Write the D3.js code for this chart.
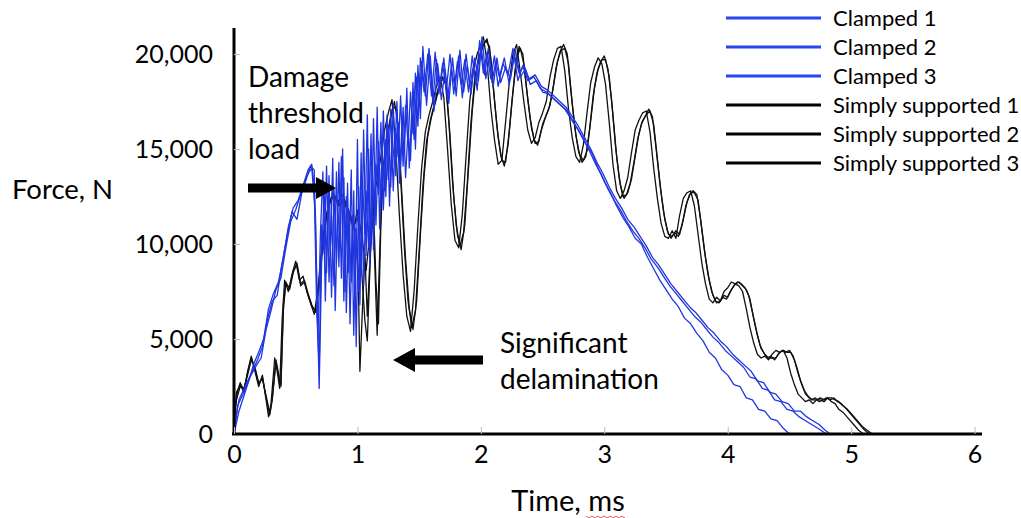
<!DOCTYPE html>
<html><head><meta charset="utf-8">
<script src="https://cdn.jsdelivr.net/npm/d3@7"></script>
<style>
html,body{margin:0;padding:0;background:#fff;}
svg{display:block;font-family:Lato,"Open Sans",sans-serif;}
</style></head>
<body>
<svg id="chart" width="1021" height="518"></svg>
<script>
// ---- data (time in ms, force in N) ----
const xTicks = [0, 1, 2, 3, 4, 5, 6];
const yTicks = [0, 5000, 10000, 15000, 20000];
const seriesNames = ["Clamped 1", "Clamped 2", "Clamped 3", "Simply supported 1", "Simply supported 2", "Simply supported 3"];

const clamped1 = [[0.00,0],[0.03,1500],[0.08,2200],[0.13,3000],[0.18,3600],[0.22,4000],[0.26,5500],[0.30,6500],[0.34,7600],[0.38,8200],[0.42,9800],[0.46,11200],[0.50,11800],[0.54,12600],[0.58,13300],[0.62,14100],[0.65,13900],[0.67,8000],[0.69,2400],[0.71,9000],[0.73,12800],[0.75,8500],[0.77,13600],[0.79,7200],[0.81,12900],[0.83,9000],[0.85,14300],[0.87,8200],[0.89,13500],[0.91,6400],[0.93,11800],[0.95,8000],[0.97,12800],[0.99,4600],[1.01,13000],[1.03,8300],[1.05,16000],[1.07,9400],[1.09,15000],[1.11,10000],[1.13,16600],[1.15,11000],[1.17,15400],[1.19,12000],[1.21,17000],[1.23,12500],[1.25,16200],[1.27,13000],[1.29,17400],[1.31,13600],[1.33,16400],[1.35,14000],[1.37,17200],[1.39,13500],[1.41,16000],[1.43,14400],[1.45,18500],[1.47,15000],[1.49,19400],[1.51,16600],[1.53,20400],[1.56,17300],[1.59,19900],[1.62,17000],[1.65,19500],[1.68,17600],[1.71,19200],[1.74,17400],[1.77,19800],[1.80,17800],[1.83,20200],[1.86,18000],[1.89,19400],[1.92,17900],[1.95,19800],[1.98,18600],[2.01,20900],[2.04,18700],[2.07,19900],[2.10,18300],[2.13,19800],[2.16,18500],[2.20,19300],[2.24,18700],[2.28,20200],[2.32,18800],[2.36,19200],[2.40,18400],[2.45,18600],[2.50,18000],[2.55,17900],[2.60,17600],[2.65,17300],[2.70,17000],[2.75,16400],[2.80,15900],[2.85,15300],[2.90,14800],[2.95,14000],[3.00,13300],[3.05,12700],[3.10,12000],[3.15,11400],[3.20,10900],[3.25,10300],[3.30,10000],[3.35,9300],[3.40,8700],[3.45,8100],[3.50,7600],[3.55,7100],[3.60,6700],[3.65,6100],[3.70,5800],[3.75,5300],[3.80,4900],[3.85,4300],[3.90,4000],[3.95,3400],[4.00,3100],[4.05,2600],[4.10,2500],[4.15,1900],[4.20,1800],[4.25,1300],[4.30,1200],[4.35,800],[4.40,700],[4.45,300],[4.50,0]];

const clamped2 = [[0.00,200],[0.04,1800],[0.09,2500],[0.14,3200],[0.19,3900],[0.23,4600],[0.27,6000],[0.31,7000],[0.35,7300],[0.39,9000],[0.43,10400],[0.47,11700],[0.51,11300],[0.55,12700],[0.59,13600],[0.63,14000],[0.66,11500],[0.68,5000],[0.70,10500],[0.72,13800],[0.74,7000],[0.76,12500],[0.78,9500],[0.80,14500],[0.82,6500],[0.84,12000],[0.86,9800],[0.88,15000],[0.90,7500],[0.92,13200],[0.94,5800],[0.96,11500],[0.98,7000],[1.00,15500],[1.02,6800],[1.04,13500],[1.06,10500],[1.08,16800],[1.10,8800],[1.12,14500],[1.14,11200],[1.16,17200],[1.18,10800],[1.20,15200],[1.22,12800],[1.24,16800],[1.26,12000],[1.28,15800],[1.30,14200],[1.32,17500],[1.34,13200],[1.36,16200],[1.38,14800],[1.40,18200],[1.42,14000],[1.44,17000],[1.46,15500],[1.48,18800],[1.50,17200],[1.52,19600],[1.55,17800],[1.58,20300],[1.61,17500],[1.64,19700],[1.67,18200],[1.70,19800],[1.73,17600],[1.76,19300],[1.79,18200],[1.82,19900],[1.85,17700],[1.88,20000],[1.91,18300],[1.94,19400],[1.97,18100],[2.00,20500],[2.03,18900],[2.06,20300],[2.09,18500],[2.12,19600],[2.15,18800],[2.19,19800],[2.23,18400],[2.27,20000],[2.31,19000],[2.35,19400],[2.39,18700],[2.44,18900],[2.49,18300],[2.54,18100],[2.59,17800],[2.64,17500],[2.69,17200],[2.74,16700],[2.79,16200],[2.84,15600],[2.89,15000],[2.94,14300],[2.99,13700],[3.04,13000],[3.09,12400],[3.14,11900],[3.19,11300],[3.24,10900],[3.29,10400],[3.34,9900],[3.39,9300],[3.44,8900],[3.49,8400],[3.54,7900],[3.59,7500],[3.64,7100],[3.69,6700],[3.74,6400],[3.79,6000],[3.84,5600],[3.89,5300],[3.94,4900],[3.99,4600],[4.04,4200],[4.09,3900],[4.14,3600],[4.19,3300],[4.24,2800],[4.29,2700],[4.34,2200],[4.39,2100],[4.44,1700],[4.49,1600],[4.54,1200],[4.59,1200],[4.64,900],[4.69,700],[4.74,500],[4.79,200],[4.83,0]];

const clamped3 = [[0.00,0],[0.04,1200],[0.08,2000],[0.12,2800],[0.16,3700],[0.20,4300],[0.24,5000],[0.28,6600],[0.32,7400],[0.36,8000],[0.40,9300],[0.44,10900],[0.48,11900],[0.52,12300],[0.56,13100],[0.60,13900],[0.63,14200],[0.65,13000],[0.67,6500],[0.69,3500],[0.71,11000],[0.73,9500],[0.75,14100],[0.77,8000],[0.79,11500],[0.81,7800],[0.83,13800],[0.85,8800],[0.87,14600],[0.89,7000],[0.91,12500],[0.93,8500],[0.95,13900],[0.97,5200],[0.99,10800],[1.01,7500],[1.03,14800],[1.05,7800],[1.07,12800],[1.09,9800],[1.11,15800],[1.13,9700],[1.15,14200],[1.17,12600],[1.19,16400],[1.21,11800],[1.23,15500],[1.25,13400],[1.27,17100],[1.29,12800],[1.31,16100],[1.33,14600],[1.35,17800],[1.37,14100],[1.39,17300],[1.41,15200],[1.43,18000],[1.45,15800],[1.47,19000],[1.49,16200],[1.51,19800],[1.54,18000],[1.57,20000],[1.60,17800],[1.63,20100],[1.66,17900],[1.69,19500],[1.72,18100],[1.75,20000],[1.78,17900],[1.81,19600],[1.84,18400],[1.87,19700],[1.90,18000],[1.93,19900],[1.96,18400],[1.99,20700],[2.02,19000],[2.05,20100],[2.08,18700],[2.11,19900],[2.14,18300],[2.18,19500],[2.22,18900],[2.26,20300],[2.30,18600],[2.34,19400],[2.38,18600],[2.43,18800],[2.48,18200],[2.53,18000],[2.58,17700],[2.63,17400],[2.68,17100],[2.73,16600],[2.78,16100],[2.83,15500],[2.88,14900],[2.93,14200],[2.98,13600],[3.03,12900],[3.08,12300],[3.13,11800],[3.18,11200],[3.23,10700],[3.28,10300],[3.33,9800],[3.38,9200],[3.43,8800],[3.48,8300],[3.53,7800],[3.58,7400],[3.63,7000],[3.68,6600],[3.73,6200],[3.78,5900],[3.83,5500],[3.88,5100],[3.93,4800],[3.98,4400],[4.03,4100],[4.08,3800],[4.13,3500],[4.18,3000],[4.23,2900],[4.28,2400],[4.33,2300],[4.38,1800],[4.43,1700],[4.48,1300],[4.53,1200],[4.58,900],[4.63,700],[4.68,500],[4.73,300],[4.80,0]];

const simply1 = [[0.00,600],[0.02,2200],[0.05,2600],[0.08,2200],[0.11,3300],[0.14,4100],[0.17,3300],[0.20,2500],[0.23,3100],[0.26,1800],[0.28,900],[0.30,1600],[0.33,4000],[0.35,3300],[0.37,2400],[0.39,6000],[0.41,8100],[0.44,7500],[0.47,8400],[0.50,9100],[0.53,8100],[0.56,8300],[0.59,7500],[0.62,6900],[0.65,6300],[0.68,7600],[0.71,9700],[0.74,11200],[0.77,12100],[0.80,12700],[0.84,12200],[0.88,12600],[0.92,11900],[0.96,11200],[0.99,10600],[1.01,7000],[1.02,3300],[1.04,6500],[1.06,9500],[1.08,6200],[1.10,9000],[1.13,12400],[1.16,13400],[1.19,14600],[1.22,16000],[1.25,16900],[1.28,17600],[1.31,15200],[1.34,11500],[1.37,8400],[1.40,6200],[1.43,5400],[1.46,7600],[1.49,11000],[1.52,14000],[1.55,15900],[1.58,16800],[1.61,17500],[1.64,18300],[1.67,18800],[1.70,17700],[1.73,15000],[1.76,12100],[1.79,10200],[1.82,9800],[1.85,11600],[1.88,14600],[1.91,17500],[1.94,19200],[1.97,20000],[2.00,20500],[2.02,20900],[2.05,19600],[2.08,17200],[2.11,15500],[2.14,14200],[2.17,14400],[2.20,16400],[2.23,18500],[2.26,20000],[2.29,20500],[2.32,19000],[2.35,17400],[2.38,16000],[2.41,15300],[2.44,15600],[2.47,16400],[2.50,16900],[2.53,17500],[2.56,18800],[2.59,19700],[2.62,20300],[2.65,20400],[2.68,19100],[2.71,17100],[2.74,15600],[2.77,14600],[2.80,14300],[2.83,15200],[2.86,16900],[2.89,18500],[2.92,19300],[2.95,19800],[2.98,19500],[3.01,18400],[3.04,16400],[3.07,14200],[3.10,12800],[3.13,12400],[3.16,12800],[3.19,13500],[3.22,14800],[3.25,16000],[3.28,16500],[3.31,16900],[3.34,17000],[3.37,15900],[3.40,14000],[3.43,12400],[3.46,11100],[3.49,10400],[3.52,10300],[3.55,10700],[3.58,10300],[3.61,11500],[3.64,12400],[3.67,12700],[3.70,12800],[3.73,12000],[3.76,10500],[3.79,9000],[3.82,7900],[3.85,7100],[3.88,6900],[3.91,7200],[3.94,7000],[3.97,7500],[4.00,7700],[4.03,8000],[4.06,7900],[4.09,7800],[4.12,7500],[4.15,6600],[4.18,5600],[4.21,4800],[4.24,4200],[4.27,4000],[4.30,4100],[4.33,3900],[4.36,4200],[4.39,4400],[4.42,4300],[4.45,4400],[4.48,4000],[4.51,3200],[4.54,2600],[4.57,2100],[4.60,1900],[4.63,1700],[4.66,1800],[4.69,1600],[4.72,1800],[4.75,1900],[4.78,1800],[4.81,1900],[4.84,1700],[4.87,1600],[4.90,1300],[4.94,1100],[4.98,800],[5.02,500],[5.06,200],[5.10,0]];

const simply2 = [[0.00,400],[0.02,1800],[0.05,2500],[0.08,2400],[0.11,3100],[0.14,3900],[0.17,3500],[0.20,2700],[0.23,2900],[0.26,2000],[0.29,1100],[0.31,1900],[0.34,3800],[0.36,3100],[0.38,2600],[0.40,6800],[0.42,7900],[0.45,7700],[0.48,8600],[0.51,8900],[0.54,7800],[0.57,8000],[0.60,7300],[0.63,6700],[0.66,6500],[0.69,8000],[0.72,10200],[0.75,11600],[0.78,12300],[0.81,12500],[0.85,12000],[0.89,12300],[0.93,11500],[0.97,10800],[1.00,11800],[1.03,9000],[1.06,6000],[1.08,4900],[1.10,8500],[1.12,11800],[1.14,9000],[1.16,5200],[1.18,9500],[1.20,13500],[1.23,15200],[1.26,16400],[1.29,17300],[1.32,17000],[1.35,13500],[1.38,9800],[1.41,7000],[1.44,5600],[1.47,6500],[1.50,9600],[1.53,13000],[1.56,15400],[1.59,16500],[1.62,17300],[1.65,18100],[1.68,18600],[1.71,18700],[1.74,16500],[1.77,13300],[1.80,11000],[1.83,9900],[1.86,10600],[1.89,13200],[1.92,16400],[1.95,18700],[1.98,19700],[2.01,20300],[2.04,20700],[2.07,20400],[2.10,18300],[2.13,16200],[2.16,14700],[2.19,14100],[2.22,15200],[2.25,17400],[2.28,19300],[2.31,20400],[2.34,20000],[2.37,18200],[2.40,16600],[2.43,15500],[2.46,15200],[2.49,16000],[2.52,16600],[2.55,17100],[2.58,18000],[2.61,19300],[2.64,20100],[2.67,20500],[2.70,20000],[2.73,18000],[2.76,16200],[2.79,14900],[2.82,14300],[2.85,14600],[2.88,16000],[2.91,17800],[2.94,19000],[2.97,19600],[3.00,19900],[3.03,19200],[3.06,17500],[3.09,15200],[3.12,13500],[3.15,12500],[3.18,12600],[3.21,13200],[3.24,14300],[3.27,15500],[3.30,16300],[3.33,16700],[3.36,17100],[3.39,16700],[3.42,15000],[3.45,13200],[3.48,11700],[3.51,10700],[3.54,10300],[3.57,10600],[3.60,10400],[3.63,11000],[3.66,12000],[3.69,12600],[3.72,12800],[3.75,12600],[3.78,11300],[3.81,9700],[3.84,8400],[3.87,7500],[3.90,7000],[3.93,6900],[3.96,7200],[3.99,7100],[4.02,7500],[4.05,7800],[4.08,8000],[4.11,7900],[4.14,7700],[4.17,7300],[4.20,6400],[4.23,5500],[4.26,4700],[4.29,4300],[4.32,4000],[4.35,4100],[4.38,3900],[4.41,4200],[4.44,4400],[4.47,4300],[4.50,4400],[4.53,4100],[4.56,3500],[4.59,2800],[4.62,2300],[4.65,2000],[4.68,1800],[4.71,1900],[4.74,1700],[4.77,1800],[4.80,1900],[4.83,1800],[4.86,1900],[4.89,1700],[4.92,1600],[4.95,1400],[4.99,1100],[5.03,800],[5.07,500],[5.11,200],[5.15,0]];

const simply3 = [[0.00,800],[0.02,2000],[0.05,2700],[0.08,2300],[0.11,3200],[0.14,4000],[0.17,3400],[0.20,2600],[0.23,3000],[0.26,1900],[0.29,1000],[0.31,1800],[0.34,3900],[0.36,3200],[0.38,2500],[0.40,6500],[0.42,8000],[0.45,7600],[0.48,8500],[0.51,9000],[0.54,7900],[0.57,8100],[0.60,7400],[0.63,6800],[0.66,6400],[0.69,7800],[0.72,10000],[0.75,11400],[0.78,12200],[0.81,12600],[0.85,12100],[0.89,12400],[0.93,11700],[0.97,11000],[1.01,11400],[1.04,10200],[1.07,8600],[1.10,10500],[1.13,12000],[1.15,8000],[1.17,5800],[1.19,11000],[1.21,14000],[1.24,15500],[1.27,16700],[1.30,17500],[1.33,16200],[1.36,12600],[1.39,9200],[1.42,6600],[1.45,5500],[1.48,7000],[1.51,10500],[1.54,13600],[1.57,15700],[1.60,16700],[1.63,17400],[1.66,18200],[1.69,18800],[1.72,18300],[1.75,15700],[1.78,12500],[1.81,10500],[1.84,9700],[1.87,11000],[1.90,14000],[1.93,17000],[1.96,19000],[1.99,19900],[2.02,20500],[2.05,20800],[2.08,19800],[2.11,17600],[2.14,15600],[2.17,14400],[2.20,14300],[2.23,15900],[2.26,18000],[2.29,19800],[2.32,20300],[2.35,19400],[2.38,17600],[2.41,16100],[2.44,15300],[2.47,15400],[2.50,16300],[2.53,16800],[2.56,17300],[2.59,18400],[2.62,19600],[2.65,20200],[2.68,20300],[2.71,19500],[2.74,17400],[2.77,15700],[2.80,14700],[2.83,14400],[2.86,14900],[2.89,16500],[2.92,18200],[2.95,19200],[2.98,19700],[3.01,19700],[3.04,18800],[3.07,16800],[3.10,14600],[3.13,13100],[3.16,12400],[3.19,12700],[3.22,13400],[3.25,14600],[3.28,15800],[3.31,16500],[3.34,16800],[3.37,17000],[3.40,16300],[3.43,14500],[3.46,12700],[3.49,11300],[3.52,10500],[3.55,10400],[3.58,10700],[3.61,10500],[3.64,11300],[3.67,12200],[3.70,12700],[3.73,12700],[3.76,12300],[3.79,10800],[3.82,9300],[3.85,8100],[3.88,7300],[3.91,6900],[3.94,7000],[3.97,7300],[4.00,7200],[4.03,7600],[4.06,7900],[4.09,8000],[4.12,7800],[4.15,7600],[4.18,7100],[4.21,6100],[4.24,5200],[4.27,4500],[4.30,4200],[4.33,4000],[4.36,4000],[4.39,4000],[4.42,4300],[4.45,4400],[4.48,4300],[4.51,4300],[4.54,3900],[4.57,3200],[4.60,2600],[4.63,2100],[4.66,1900],[4.69,1800],[4.72,1800],[4.75,1800],[4.78,1700],[4.81,1900],[4.84,1900],[4.87,1800],[4.90,1700],[4.93,1500],[4.97,1300],[5.01,1000],[5.05,700],[5.09,400],[5.13,200],[5.17,0]];

const allSeries = [clamped1, clamped2, clamped3, simply1, simply2, simply3];
const seriesColors = ["#1f35e0", "#1f35e0", "#1f35e0", "#111111", "#111111", "#111111"];
const legendColors = ["#2447ee", "#2447ee", "#2447ee", "#000000", "#000000", "#000000"];

// ---- drawing ----
const svg = d3.select("#chart");
const x = d3.scaleLinear().domain([0, 6.06]).range([234, 982]);
const y = d3.scaleLinear().domain([0, 21370]).range([434, 28]);

const line = d3.line().x(d => x(d[0])).y(d => y(d[1]));

// data lines (black first, then blue)
const order = [3, 4, 5, 0, 1, 2];
svg.append("g").selectAll("path").data(order).join("path")
  .attr("d", i => line(allSeries[i]))
  .attr("fill", "none")
  .attr("stroke", i => seriesColors[i])
  .attr("stroke-width", 1.3)
  .attr("stroke-linejoin", "round");

// axes
const yAxis = d3.axisLeft(y).tickValues(yTicks).tickSize(-6).tickPadding(21).tickFormat(d3.format(","));
const gy = svg.append("g").attr("transform", "translate(234,0)").call(yAxis);
const xAxis = d3.axisBottom(x).tickValues(xTicks).tickSize(-7).tickPadding(11).tickFormat(d3.format("d"));
const gx = svg.append("g").attr("transform", "translate(0,434)").call(xAxis);
[gx, gy].forEach(g => {
  g.select(".domain").attr("stroke", "#000").attr("stroke-width", 3);
  g.selectAll(".tick line").attr("stroke", "#bbb").attr("stroke-width", 1);
  g.selectAll(".tick text").attr("fill", "#000").style("font-family", "Lato, sans-serif").style("font-size", "25px");
});
gy.select(".domain").attr("d", "M0,434V28");
gx.select(".domain").attr("d", "M232,0H982");

// axis titles
svg.append("text").attr("x", 12).attr("y", 199).text("Force, N")
  .style("font-size", "27.5px").attr("fill", "#000");
svg.append("text").attr("x", 568).attr("y", 511).attr("text-anchor", "middle").text("Time, ms")
  .style("font-size", "29px").attr("fill", "#000");
// spell-check squiggle under "ms"
let sq = "M586,516";
for (let i = 0; i < 13; i++) sq += `L${589 + i * 3},${i % 2 ? 516 : 518}`;
svg.append("path").attr("d", sq).attr("fill", "none").attr("stroke", "#e03030").attr("stroke-width", 0.8);

// legend
const leg = svg.append("g");
seriesNames.forEach((name, i) => {
  const yy = 18 + i * 29;
  leg.append("line").attr("x1", 726).attr("x2", 821).attr("y1", yy).attr("y2", yy)
    .attr("stroke", legendColors[i]).attr("stroke-width", 3);
  leg.append("text").attr("x", 833).attr("y", yy + 8).text(name)
    .style("font-size", "22px").attr("fill", "#000");
});

// annotations
["Damage", "threshold", "load"].forEach((t, i) => {
  svg.append("text").attr("x", 248).attr("y", 87 + i * 36).text(t).style("font-size", "28px").attr("fill", "#000");
});
["Significant", "delamination"].forEach((t, i) => {
  svg.append("text").attr("x", 500).attr("y", 353 + i * 36).text(t).style("font-size", "28px").attr("fill", "#000");
});
// arrows
svg.append("path").attr("d", "M248,183.5H316V177L336,188L316,199V192.5H248Z").attr("fill", "#000");
svg.append("path").attr("d", "M483,355.5H415V348L393,360L415,372V364.5H483Z").attr("fill", "#000");
</script>
</body></html>
